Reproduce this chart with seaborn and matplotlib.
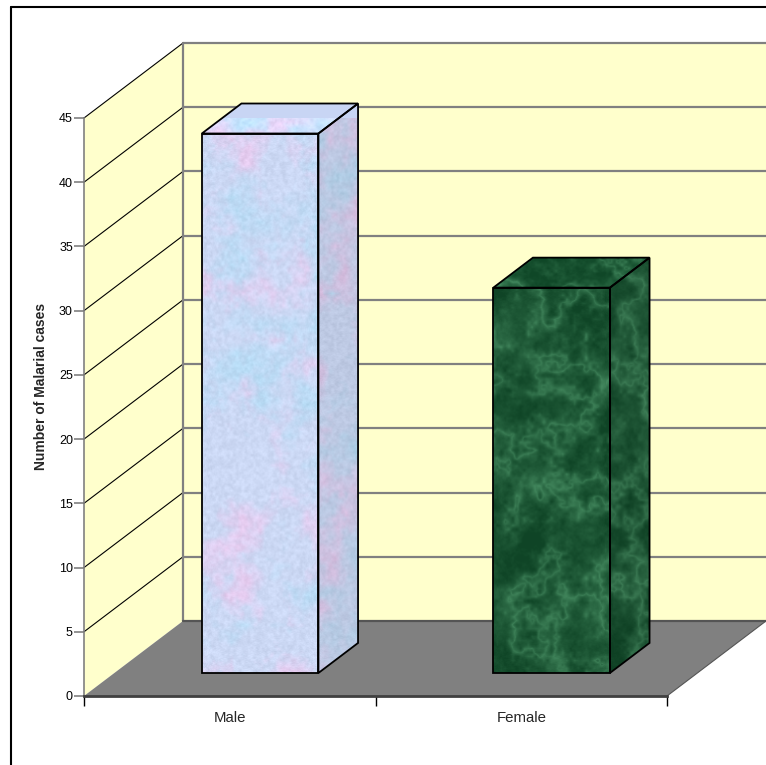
import numpy as np
import matplotlib
matplotlib.use("Agg")
import matplotlib.pyplot as plt
import seaborn as sns
from matplotlib.patches import Polygon
from matplotlib.lines import Line2D
from matplotlib.transforms import IdentityTransform, ScaledTranslation

# data
categories = ["Male", "Female"]
cases = [42, 30]
y_ticks = list(range(0, 50, 5))

# colours
bar_base = {"Male": "#C8D5F4", "Female": "#1C5A36"}
WALL = "#FFFFCC"
FLOOR = "#808080"
GRID = "#808080"

sns.set_style("white")
plt.rcParams["font.family"] = ["Liberation Sans", "DejaVu Sans"]

fig = plt.figure(figsize=(7.66, 7.65), dpi=100)
ax = fig.add_axes([84 / 766, 69 / 765, 583 / 766, 578 / 765])
ax.set_facecolor("none")

# front faces of the bars through seaborn
sns.barplot(x=categories, y=cases, hue=categories, palette=[bar_base[c] for c in categories],
            width=0.4, legend=False, ax=ax, linewidth=0, zorder=5)
ax.set_xlim(-0.5, 1.5)
ax.set_ylim(0, 45)
ax.set_autoscale_on(False)

# oblique depth: full depth shift in inches (right, up)
DX, DY = 0.99, 0.75
T_FRONT, T_BACK = 0.307, 0.707
rng = np.random.default_rng(7)


def shifted(t):
    return ax.transData + ScaledTranslation(t * DX, t * DY, fig.dpi_scale_trans)


def proj(x, y, t):
    return shifted(t).transform((x, y))


def upsample(g, h, w):
    xs = np.linspace(0, g.shape[1] - 1, w)
    ys = np.linspace(0, g.shape[0] - 1, h)
    tmp = np.array([np.interp(xs, np.arange(g.shape[1]), row) for row in g])
    return np.array([np.interp(ys, np.arange(g.shape[0]), col) for col in tmp.T]).T


def fractal(h, w, scales=(40, 16, 6, 2), weights=(0.5, 0.3, 0.15, 0.05)):
    out = np.zeros((h, w))
    for s, wt in zip(scales, weights):
        g = rng.random((h // s + 2, w // s + 2))
        out += wt * upsample(g, h, w)
    return (out - out.min()) / (np.ptp(out) + 1e-9)


def texture(kind, h, w, shade=1.0):
    if kind == "Male":
        base = np.array([0.80, 0.85, 0.96])
        pink = np.array([0.90, 0.80, 0.94])
        cyan = np.array([0.72, 0.86, 0.96])
        n1, n2 = fractal(h, w), fractal(h, w)
        fine = fractal(h, w, scales=(3, 1), weights=(0.6, 0.4))
        a = np.clip((n1 - 0.5) * 2.5, 0, 1)[..., None]
        b = np.clip((n2 - 0.5) * 2.5, 0, 1)[..., None]
        img = base * (1 - a) + pink * a
        img = img * (1 - b) + cyan * b
        img = img + (fine[..., None] - 0.5) * 0.10
    else:
        dark = np.array([0.06, 0.27, 0.15])
        light = np.array([0.33, 0.62, 0.44])
        n = fractal(h, w, scales=(70, 30, 12, 4), weights=(0.45, 0.3, 0.17, 0.08))
        m = fractal(h, w, scales=(50, 20, 8), weights=(0.5, 0.3, 0.2))
        veins = np.exp(-np.abs(n - 0.5) * 9)
        fine = fractal(h, w, scales=(4, 2, 1), weights=(0.5, 0.3, 0.2))
        v = np.clip(0.55 * veins + 0.35 * m + 0.2 * fine - 0.22, 0, 1)[..., None]
        img = dark * (1 - v) + light * v
    return np.clip(img * shade, 0, 1)


def add_texture(kind, clip, pts, shade):
    pts = np.asarray(pts)
    xmin, ymin = pts.min(axis=0)
    xmax, ymax = pts.max(axis=0)
    h = max(int(ymax - ymin) + 2, 4)
    w = max(int(xmax - xmin) + 2, 4)
    im = ax.imshow(texture(kind, h, w, shade), extent=(xmin, xmax, ymin, ymax),
                   transform=IdentityTransform(), aspect="auto", interpolation="bilinear",
                   zorder=5.5, clip_on=True)
    im.set_clip_path(clip)


def face(points, fc, ec="none", lw=0.0, z=1, kind=None, shade=1.0):
    pts = [proj(*p) for p in points]
    poly = Polygon(pts, closed=True, facecolor=fc, edgecolor="none", linewidth=0,
                   transform=IdentityTransform(), zorder=z, clip_on=False)
    ax.add_artist(poly)
    if kind is not None:
        add_texture(kind, poly, pts, shade)
    if ec != "none":
        edge = Polygon(pts, closed=True, facecolor="none", edgecolor=ec, linewidth=lw,
                       transform=IdentityTransform(), zorder=z + 1.5, clip_on=False)
        ax.add_artist(edge)
    return poly


def seg(p1, p2, color, lw, z=2):
    a, b = proj(*p1), proj(*p2)
    ln = Line2D([a[0], b[0]], [a[1], b[1]], color=color, linewidth=lw,
                transform=IdentityTransform(), zorder=z, clip_on=False)
    ax.add_artist(ln)


x0, x1 = -0.5, 1.5
top = y_ticks[-1]

# back wall, side wall, floor
face([(x0, 0, 1), (x1, 0, 1), (x1, top, 1), (x0, top, 1)], WALL, z=0.5)
face([(x0, 0, 0), (x0, 0, 1), (x0, top, 1), (x0, top, 0)], WALL, z=0.6)
for v in y_ticks[1:]:
    seg((x0, v, 1), (x1, v, 1), GRID, 1.6, z=0.7)
    seg((x0, v, 0), (x0, v, 1), "black", 0.8, z=0.7)
seg((x0, 0, 1), (x0, top, 1), GRID, 1.6, z=0.7)
face([(x0, 0, 0), (x1, 0, 0), (x1, 0, 1), (x0, 0, 1)], FLOOR, z=0.8)
seg((x0, 0, 1), (x1, 0, 1), "#555555", 1.6, z=0.85)
seg((x1, 0, 0), (x1, 0, 1), "#555555", 0.8, z=0.85)

# bars: shift the seaborn front faces into depth and add top/side faces
for patch, cat, val in zip(list(ax.patches), categories, cases):
    patch.set_transform(shifted(T_FRONT))
    patch.set_clip_on(False)
    bx0 = patch.get_x()
    bx1 = bx0 + patch.get_width()
    front = [(bx0, 0, T_FRONT), (bx1, 0, T_FRONT), (bx1, val, T_FRONT), (bx0, val, T_FRONT)]
    face(front, bar_base[cat], ec="black", lw=1.3, z=5, kind=cat, shade=1.0)
    face([(bx0, val, T_FRONT), (bx1, val, T_FRONT), (bx1, val, T_BACK), (bx0, val, T_BACK)],
         bar_base[cat], ec="black", lw=1.3, z=5, kind=cat, shade=1.04)
    face([(bx1, 0, T_FRONT), (bx1, 0, T_BACK), (bx1, val, T_BACK), (bx1, val, T_FRONT)],
         bar_base[cat], ec="black", lw=1.3, z=5, kind=cat, shade=0.93)

# axes styling
for s in ["top", "right"]:
    ax.spines[s].set_visible(False)
ax.spines["left"].set_color("#808080")
ax.spines["left"].set_linewidth(1.2)
ax.spines["bottom"].set_color("#404040")
ax.spines["bottom"].set_linewidth(2)
ax.spines["left"].set_zorder(3)
ax.spines["bottom"].set_zorder(3)

ax.set_yticks(y_ticks)
ax.tick_params(axis="y", left=True, length=7, width=1.2, color="#808080",
               labelsize=9, pad=1, labelcolor="black")
ax.set_xticks([0, 1], categories)
ax.set_xticks([-0.5, 0.5, 1.5], minor=True)
ax.tick_params(axis="x", which="major", length=0, pad=11, labelsize=10.8)
ax.tick_params(axis="x", which="minor", bottom=True, length=7, width=1, color="black")
ax.set_xlabel("")
ax.set_ylabel("Number of Malarial cases", fontsize=10, fontweight="bold")
ax.yaxis.set_label_coords(-0.062, 0.536)

# outer chart frame
fig.add_artist(Line2D([11 / 766, 11 / 766], [0, 1 - 7 / 765], color="black", lw=1.5,
                      transform=fig.transFigure))
fig.add_artist(Line2D([11 / 766, 1], [1 - 7 / 765, 1 - 7 / 765], color="black", lw=1.5,
                      transform=fig.transFigure))

ax.set_xlim(-0.5, 1.5)
ax.set_ylim(0, 45)
fig.savefig("out.png", dpi=100, facecolor="white")
